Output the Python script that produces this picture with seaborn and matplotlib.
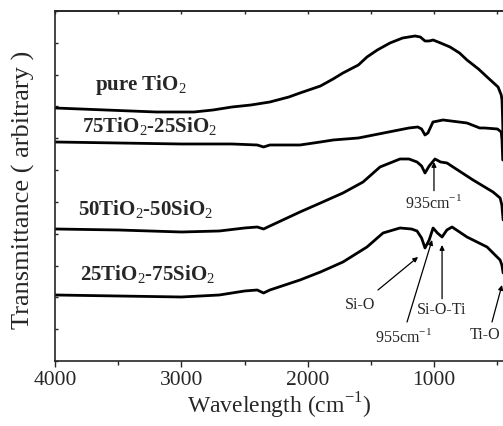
import numpy as np
import pandas as pd
import matplotlib
matplotlib.use("Agg")
import matplotlib.pyplot as plt
import seaborn as sns

# ==========================
# DATA (arbitrary units)
# ==========================

wn_pure = [4000, 3600, 3200, 2900, 2750, 2600, 2450, 2300, 2150, 2062, 1900, 1800,
           1722, 1600, 1532, 1450, 1350, 1250, 1152, 1110, 1073, 1040, 1009, 950,
           875, 800, 741, 650, 582, 495, 470, 464, 460, 455]
t_pure = [253, 251, 249, 249, 251, 254, 256, 259, 264, 268, 275, 282,
          288, 296, 304, 311, 318, 323, 325, 324, 320, 320, 321, 318,
          314, 308, 301, 292, 284, 274, 266, 261, 246, 221]

wn_75 = [4000, 3500, 3000, 2600, 2400, 2350, 2300, 2062, 1900, 1800, 1600, 1400,
         1200, 1130, 1100, 1073, 1050, 1010, 930, 741, 640, 600, 500, 470, 464, 458]
t_75 = [219, 218, 217, 217, 216, 214, 216, 216, 219, 221, 223, 228,
        233, 234, 232, 226, 228, 239, 241, 238, 233, 233, 232, 229, 221, 201]

wn_50 = [4000, 3500, 3000, 2700, 2500, 2400, 2350, 2300, 2062, 1900, 1722, 1563,
         1429, 1271, 1200, 1136, 1100, 1073, 1040, 994, 950, 899, 851, 693,
         535, 479, 465, 455]
t_50 = [132, 131, 129, 130, 133, 134, 132, 135, 149, 158, 168, 179,
        194, 202, 202, 199, 195, 188, 195, 202, 199, 198, 194, 181,
        169, 163, 156, 141]

wn_25 = [4000, 3500, 3000, 2700, 2500, 2400, 2350, 2300, 2062, 1900, 1722, 1532,
         1405, 1271, 1180, 1136, 1100, 1073, 1040, 1009, 975, 938, 900, 859,
         800, 741, 582, 479, 465, 455]
t_25 = [66, 65, 64, 66, 70, 71, 68, 71, 81, 89, 99, 114,
        128, 133, 132, 130, 123, 113, 121, 133, 128, 124, 131, 134,
        129, 124, 114, 101, 96, 88]

labels = ["pure TiO$_2$", "75TiO$_2$-25SiO$_2$", "50TiO$_2$-50SiO$_2$", "25TiO$_2$-75SiO$_2$"]
label_pos = [(3684, 276), (3786, 234), (3818, 151), (3802, 86)]

x_ticks = [4000, 3000, 2000, 1000]
x_minor = [3500, 2500, 1500, 500]

# ==========================
# FIGURE
# ==========================

sns.set_style("ticks")
plt.rcParams["font.family"] = ["Liberation Serif", "DejaVu Serif"]
plt.rcParams["mathtext.fontset"] = "custom"
plt.rcParams["mathtext.rm"] = "Liberation Serif"
plt.rcParams["mathtext.bf"] = "Liberation Serif:bold"

fig = plt.figure(figsize=(5.03, 4.26), dpi=100)
ax = fig.add_axes([0.1093, 0.1526, 0.8907, 0.8216])

series = [(wn_pure, t_pure), (wn_75, t_75), (wn_50, t_50), (wn_25, t_25)]

for wn, t in series:
    df = pd.DataFrame({"wn": wn, "t": t})
    sns.lineplot(data=df, x="wn", y="t", color="black", linewidth=2.0,
                 sort=False, ax=ax)

for lab, (xp, yp) in zip(labels, label_pos):
    ax.text(xp, yp, lab, fontsize=15, fontweight="bold", ha="left", va="center")

# annotations
fs = 11.5
arrow = dict(arrowstyle="-|>", color="black", lw=0.9, mutation_scale=7,
             shrinkA=0, shrinkB=0)
ax.annotate("935cm$^{-1}$", xy=(1002, 199), xytext=(1002, 158),
            ha="center", va="center", fontsize=fs, arrowprops=arrow)
ax.annotate("", xy=(1128, 104), xytext=(1445, 71), arrowprops=arrow)
ax.text(1587, 56, "Si-O", ha="center", va="center", fontsize=fs)
ax.text(1247, 24, "955cm$^{-1}$", ha="center", va="center", fontsize=fs)
ax.annotate("", xy=(1017, 121), xytext=(1215, 39), arrowprops=arrow)
ax.annotate("Si-O-Ti", xy=(938, 116), xytext=(938, 51),
            ha="center", va="center", fontsize=fs, arrowprops=arrow)
ax.text(480, 26, "Ti-O", ha="right", va="center", fontsize=fs)
ax.annotate("", xy=(464, 76), xytext=(543, 39), arrowprops=arrow)

ax.set_xlim(4000, 456)
ax.set_ylim(0, 350)

ax.set_xticks(x_ticks)
ax.set_xticks(x_minor, minor=True)
ax.tick_params(axis="x", which="major", direction="out", length=4, width=1,
               labelsize=15.5, pad=3)
ax.tick_params(axis="x", which="minor", direction="out", length=3, width=1)

ax.set_yticks(np.linspace(0, 350, 12))
ax.tick_params(axis="y", which="major", direction="in", length=2, width=1,
               labelleft=False)

top = ax.secondary_xaxis("top")
top.set_xticks(x_ticks + x_minor)
top.tick_params(direction="in", length=2, width=1, labeltop=False)

for s in ["left", "bottom", "top"]:
    ax.spines[s].set_linewidth(1.2)
ax.spines["right"].set_visible(False)
top.spines["top"].set_linewidth(1.2)

ax.set_xlabel("Wavelength (cm$^{-1}$)", fontsize=17, labelpad=1)
ax.set_ylabel("Transmittance ( arbitrary )", fontsize=19)
ax.yaxis.set_label_coords(-0.045, 0.49)

fig.savefig("out.png", dpi=100)
